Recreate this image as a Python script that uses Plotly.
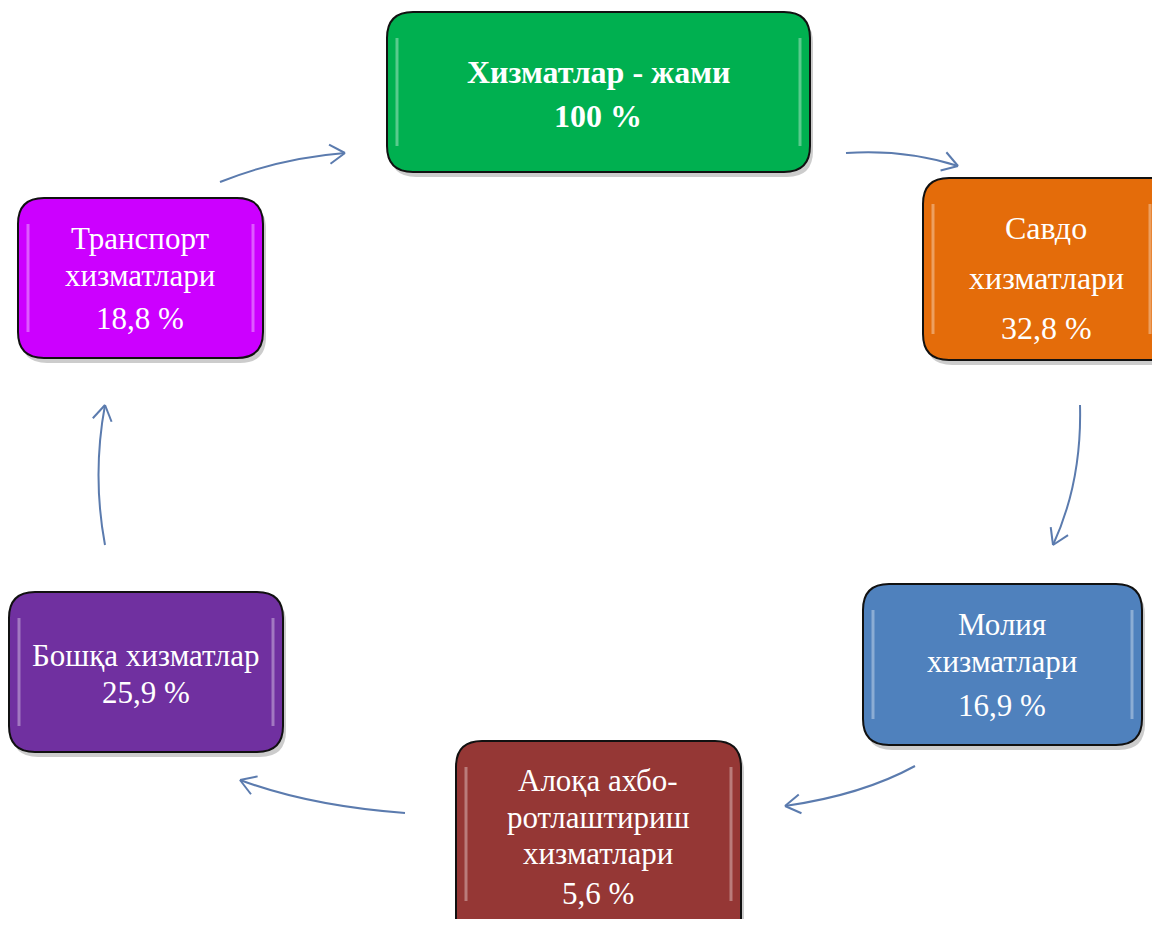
import math
import plotly.graph_objects as go

# ---- data ----
labels = [
    ["Хизматлар - жами", "100 %"],
    ["Савдо", "хизматлари", "32,8 %"],
    ["Молия", "хизматлари", "16,9 %"],
    ["Алоқа ахбо-", "ротлаштириш", "хизматлари", "5,6 %"],
    ["Бошқа хизматлар", "25,9 %"],
    ["Транспорт", "хизматлари", "18,8 %"],
]
shares = [100.0, 32.8, 16.9, 5.6, 25.9, 18.8]

# ---- layout / style ----
colors = ["#00B050", "#E46C0A", "#4F81BD", "#953735", "#7030A0", "#CC00FF"]
boxes = [  # x0, y0, x1, y1 (page pixels, y downward)
    (387, 12, 810, 172),
    (923, 178, 1185, 360),
    (863, 584, 1142, 745),
    (456, 741, 741, 960),
    (9, 592, 283, 752),
    (18, 198, 263, 358),
]
line_y = [
    [72, 116],
    [228, 278, 328],
    [624, 661, 705],
    [780, 817, 853, 893],
    [655, 692],
    [238, 275, 318],
]
centers_x = [598, 1046, 1002, 598, 146, 140]
bold = [True, False, False, False, False, False]
font_sizes = [32, 32, 31, 31, 31, 31]

arrows = [  # start, control, end
    ((220, 182), (280, 158), (345, 153)),
    ((846, 153), (905, 149), (958, 166)),
    ((1080, 405), (1082, 482), (1053, 545)),
    ((915, 766), (862, 795), (785, 806)),
    ((405, 813), (310, 806), (240, 780)),
    ((105, 545), (92, 475), (105, 405)),
]
arrow_color = "#5B7BAE"

# page offset due to default body margin (8px)
OFF = 8
W, H = 1160 - 2 * OFF, 927 - 2 * OFF


def rounded_rect(x0, y0, x1, y1, r):
    return (f"M{x0+r},{y0} L{x1-r},{y0} Q{x1},{y0} {x1},{y0+r} "
            f"L{x1},{y1-r} Q{x1},{y1} {x1-r},{y1} L{x0+r},{y1} "
            f"Q{x0},{y1} {x0},{y1-r} L{x0},{y0+r} Q{x0},{y0} {x0+r},{y0} Z")


shapes = []
annotations = []

for i, (x0, y0, x1, y1) in enumerate(boxes):
    shapes.append(dict(type="path", xref="x", yref="y",
                       path=rounded_rect(x0 + 3, y0 + 5, x1 + 3, y1 + 5, 26),
                       fillcolor="rgba(0,0,0,0.20)", line=dict(width=0), layer="below"))
    shapes.append(dict(type="path", xref="x", yref="y",
                       path=rounded_rect(x0, y0, x1, y1, 26),
                       fillcolor=colors[i], line=dict(color="#111111", width=2)))
    for sx in (x0 + 10, min(x1, 1160) - 10):
        shapes.append(dict(type="line", xref="x", yref="y",
                           x0=sx, x1=sx, y0=y0 + 26, y1=min(y1, 927) - 26,
                           line=dict(color="rgba(255,255,255,0.35)", width=3)))
    for j, t in enumerate(labels[i]):
        txt = f"<b>{t}</b>" if bold[i] else t
        annotations.append(dict(x=centers_x[i], y=line_y[i][j], xref="x", yref="y",
                                text=txt, showarrow=False,
                                font=dict(family="Liberation Serif", size=font_sizes[i],
                                          color="white"),
                                xanchor="center", yanchor="middle"))

for (s, c, e) in arrows:
    shapes.append(dict(type="path", xref="x", yref="y",
                       path=f"M{s[0]},{s[1]} Q{c[0]},{c[1]} {e[0]},{e[1]}",
                       line=dict(color=arrow_color, width=2)))
    dx, dy = e[0] - c[0], e[1] - c[1]
    n = (dx * dx + dy * dy) ** 0.5
    ux, uy = dx / n, dy / n
    L = 18
    for ang in (math.radians(32), -math.radians(32)):
        ca, sa = math.cos(ang), math.sin(ang)
        bx = -(ux * ca - uy * sa)
        by = -(ux * sa + uy * ca)
        shapes.append(dict(type="line", xref="x", yref="y",
                           x0=e[0], y0=e[1], x1=e[0] + L * bx, y1=e[1] + L * by,
                           line=dict(color=arrow_color, width=2)))

fig = go.Figure()
fig.add_trace(go.Scatter(x=[OFF, OFF + W], y=[OFF, OFF + H], mode="markers",
                         marker=dict(opacity=0), hoverinfo="skip", showlegend=False))
fig.update_layout(
    width=W, height=H,
    margin=dict(l=0, r=0, t=0, b=0),
    paper_bgcolor="white", plot_bgcolor="white",
    xaxis=dict(range=[OFF, OFF + W], visible=False, fixedrange=True),
    yaxis=dict(range=[OFF + H, OFF], visible=False, fixedrange=True),
    shapes=shapes, annotations=annotations,
    showlegend=False,
)
fig.write_html("out.html")
